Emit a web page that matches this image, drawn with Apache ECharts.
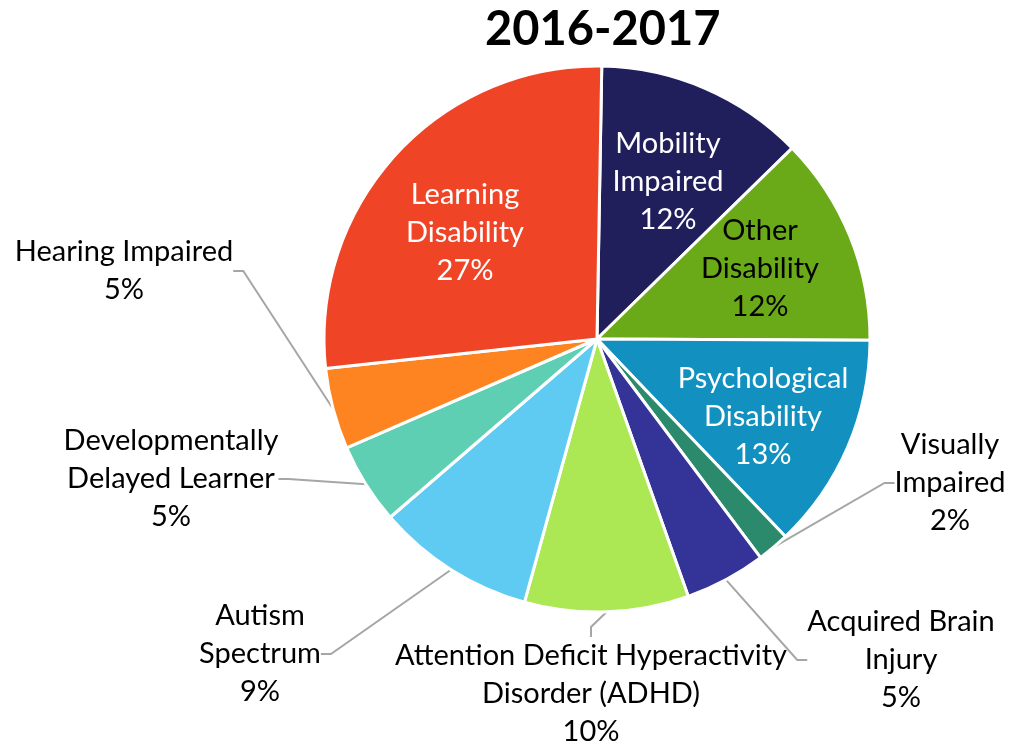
<!DOCTYPE html>
<html>
<head>
<meta charset="utf-8">
<script src="https://cdn.jsdelivr.net/npm/echarts@6/dist/echarts.min.js"></script>
<style>
  body { margin: 0; padding: 0; background: #fff; }
  #chart { width: 1010px; height: 744px; }
</style>
</head>
<body>
<div id="chart"></div>
<script>
// students by disability type, 2016-2017 (share, %), clockwise from the top
const categories = [
  'Mobility Impaired',
  'Other Disability',
  'Psychological Disability',
  'Visually Impaired',
  'Acquired Brain Injury',
  'Attention Deficit Hyperactivity Disorder (ADHD)',
  'Autism Spectrum',
  'Developmentally Delayed Learner',
  'Hearing Impaired',
  'Learning Disability'
];
const shares = [12.4, 12.4, 12.8, 1.9, 4.8, 9.7, 9.4, 4.8, 4.8, 27.0];

// how the labels wrap in the original
const labelLines = [
  ['Mobility', 'Impaired'],
  ['Other', 'Disability'],
  ['Psychological', 'Disability'],
  ['Visually', 'Impaired'],
  ['Acquired Brain', 'Injury'],
  ['Attention Deficit Hyperactivity', 'Disorder (ADHD)'],
  ['Autism', 'Spectrum'],
  ['Developmentally', 'Delayed Learner'],
  ['Hearing Impaired'],
  ['Learning', 'Disability']
];

const sliceColors = ['#201f5c', '#6aa918', '#1290bf', '#2a8a6b', '#343397',
                     '#abe853', '#5fcbf2', '#5ecfb3', '#fe8422', '#f04426'];
const insideLabel = [true, true, true, false, false, false, false, false, false, true];
const labelColors = ['#fff', '#000', '#fff', '#000', '#000', '#000', '#000', '#000', '#000', '#fff'];
// centre of each label block, px
const labelSpots = [
  [668, 182], [760, 269], [763, 417], [950, 483], [901, 660],
  [591, 694], [260, 654], [171, 479], [124, 271], [465, 233]
];

const chart = echarts.init(document.getElementById('chart'));

const pieData = categories.map((name, i) => ({
  name: name,
  value: shares[i],
  itemStyle: { color: sliceColors[i] },
  label: {
    position: insideLabel[i] ? 'inside' : 'outside',
    color: labelColors[i]
  },
  labelLine: { show: !insideLabel[i] }
}));

chart.setOption({
  animation: false,
  title: {
    text: '2016-2017',
    left: 480,
    top: 1,
    textStyle: {
      fontFamily: 'Lato',
      fontWeight: 'bold',
      fontSize: 47,
      color: '#000'
    }
  },
  series: [{
    type: 'pie',
    center: [597, 339],
    radius: 273,
    startAngle: 89,
    clockwise: true,
    avoidLabelOverlap: false,
    silent: true,
    data: pieData,
    itemStyle: { borderColor: '#fff', borderWidth: 3 },
    label: {
      fontFamily: 'Lato',
      fontSize: 29,
      lineHeight: 38,
      overflow: 'none',
      formatter: p => labelLines[p.dataIndex].join('\n') + '\n' + Math.round(p.percent) + '%'
    },
    labelLine: {
      length: 10,
      length2: 10,
      smooth: false,
      lineStyle: { color: '#a6a6a6', width: 2 }
    },
    labelLayout: p => ({
      x: labelSpots[p.dataIndex][0],
      y: labelSpots[p.dataIndex][1],
      align: 'center',
      verticalAlign: 'middle'
    })
  }]
});
</script>
</body>
</html>
